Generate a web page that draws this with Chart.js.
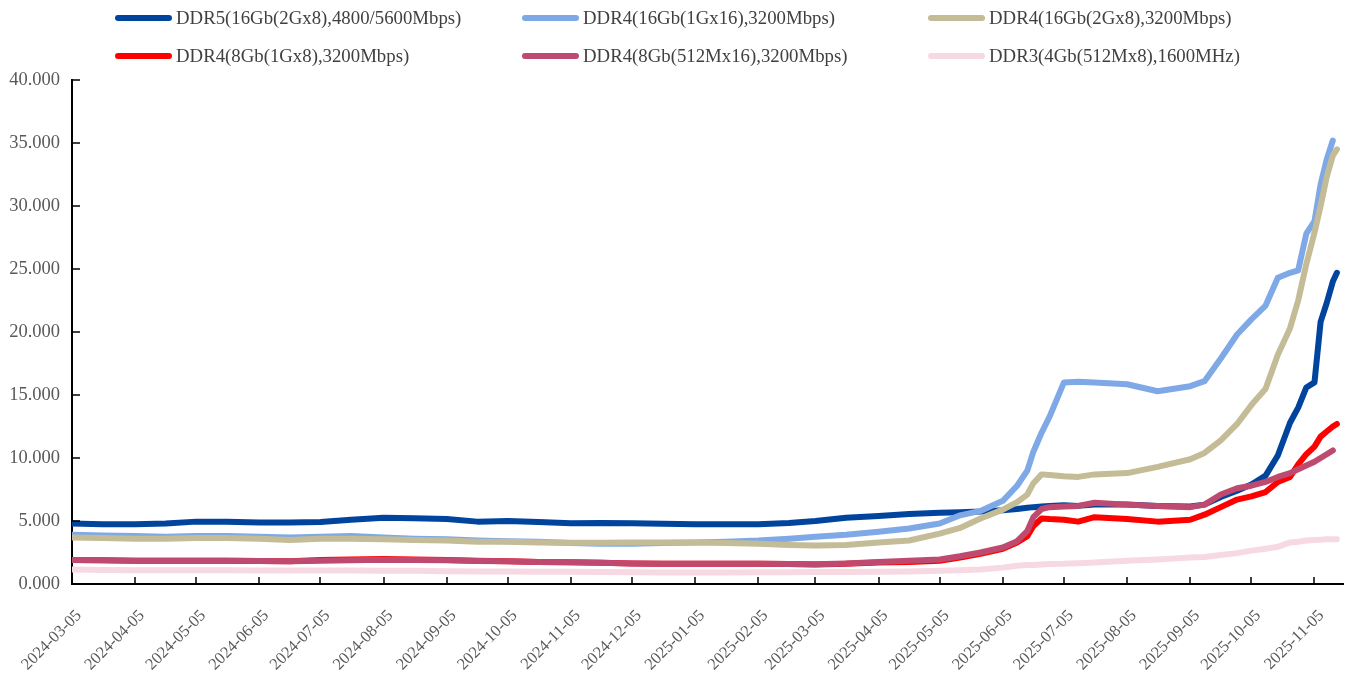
<!DOCTYPE html>
<html>
<head>
<meta charset="utf-8">
<script src="https://cdn.jsdelivr.net/npm/chart.js@4.4.1/dist/chart.umd.min.js"></script>
<style>
  html,body{margin:0;padding:0;background:#fff;}
  #wrap{position:relative;width:1348px;height:675px;overflow:hidden;}
  #c{position:absolute;left:0;top:0;}
  .lg{position:absolute;height:24px;display:flex;align-items:center;white-space:nowrap;
      font-family:"Liberation Serif","Times New Roman",serif;font-size:18.8px;color:#404040;}
  .lg i{display:inline-block;width:57px;height:6px;border-radius:3px;margin-right:4px;}
</style>
</head>
<body>
<div id="wrap">
  <canvas id="c" width="1348" height="675"></canvas>
</div>
<script>
// sample dates (x) and price series
const dates = [
  '2024-03-05','2024-03-20','2024-04-05','2024-04-20','2024-05-05','2024-05-20','2024-06-05','2024-06-20',
  '2024-07-05','2024-07-20','2024-08-05','2024-08-20','2024-09-05','2024-09-20','2024-10-05','2024-10-20',
  '2024-11-05','2024-11-20','2024-12-05','2024-12-20',
  '2025-01-05','2025-01-20','2025-02-05','2025-02-20','2025-03-05','2025-03-20','2025-04-05','2025-04-20','2025-05-05',
  '2025-05-15','2025-05-25','2025-06-05','2025-06-12','2025-06-17','2025-06-20','2025-06-24','2025-06-28',
  '2025-07-05','2025-07-12','2025-07-20',
  '2025-08-05','2025-08-20',
  '2025-09-05','2025-09-12','2025-09-20','2025-09-28',
  '2025-10-05','2025-10-12','2025-10-18','2025-10-24','2025-10-28',
  '2025-11-01','2025-11-05','2025-11-08','2025-11-11','2025-11-14','2025-11-16'
];

const ddr5_16g = [
  4.8,4.75,4.75,4.8,4.95,4.95,4.88,4.88,4.92,5.1,5.25,5.22,5.15,4.95,5.0,4.92,4.82,4.85,4.82,4.78,
  4.75,4.75,4.75,4.85,5.0,5.25,5.4,5.55,5.65,
  5.7,5.75,5.85,5.95,6.05,6.1,6.15,6.2,
  6.25,6.2,6.3,
  6.3,6.2,
  6.15,6.3,6.9,7.4,
  7.9,8.6,10.2,12.8,14.0,
  15.6,16.0,20.8,22.3,24.0,24.7
];
const ddr4_16g_1gx16 = [
  3.9,3.85,3.8,3.75,3.8,3.8,3.75,3.7,3.75,3.8,3.7,3.6,3.55,3.45,3.4,3.35,3.25,3.2,3.2,3.25,
  3.3,3.35,3.45,3.6,3.75,3.9,4.15,4.4,4.8,
  5.45,5.8,6.6,7.8,9.0,10.5,12.0,13.3,
  16.0,16.05,16.0,
  15.85,15.3,
  15.7,16.1,17.9,19.8,
  21.0,22.1,24.3,24.7,24.9,
  27.8,28.8,31.7,33.7,35.2,null
];
const ddr4_16g_2gx8 = [
  3.7,3.65,3.6,3.6,3.65,3.65,3.6,3.5,3.6,3.6,3.55,3.5,3.45,3.35,3.35,3.3,3.28,3.28,3.3,3.3,
  3.3,3.25,3.2,3.1,3.05,3.1,3.3,3.45,4.0,
  4.45,5.2,5.9,6.5,7.1,8.0,8.7,8.65,
  8.55,8.5,8.7,
  8.8,9.3,
  9.9,10.4,11.4,12.7,
  14.2,15.5,18.2,20.3,22.5,
  25.4,27.9,30.0,32.3,34.0,34.5
];
const ddr4_8g_1gx8 = [
  1.9,1.88,1.85,1.85,1.85,1.85,1.82,1.8,1.9,1.95,1.98,1.95,1.9,1.85,1.8,1.75,1.72,1.68,1.62,1.6,
  1.6,1.6,1.6,1.58,1.55,1.6,1.7,1.75,1.85,
  2.1,2.4,2.8,3.3,3.8,4.6,5.2,5.15,
  5.1,4.95,5.3,
  5.15,4.95,
  5.1,5.5,6.1,6.7,
  6.95,7.3,8.1,8.5,9.5,
  10.3,10.9,11.7,12.1,12.5,12.7
];
const ddr4_8g_512mx16 = [
  1.9,1.88,1.85,1.85,1.85,1.85,1.82,1.8,1.85,1.88,1.92,1.9,1.88,1.83,1.8,1.75,1.72,1.68,1.62,1.6,
  1.6,1.6,1.6,1.58,1.57,1.62,1.75,1.85,1.95,
  2.2,2.5,2.9,3.4,4.2,5.3,5.95,6.1,
  6.15,6.2,6.45,
  6.3,6.2,
  6.1,6.3,7.1,7.6,
  7.8,8.1,8.5,8.8,9.1,
  9.4,9.7,10.0,10.3,10.6,null
];
const ddr3_4g = [
  1.15,1.12,1.1,1.1,1.1,1.1,1.08,1.08,1.08,1.08,1.05,1.05,1.02,1.0,1.0,0.98,0.97,0.95,0.93,0.92,
  0.92,0.92,0.93,0.93,0.95,0.95,0.97,1.0,1.05,
  1.1,1.15,1.3,1.45,1.5,1.5,1.55,1.58,
  1.6,1.65,1.7,
  1.85,1.95,
  2.1,2.15,2.3,2.45,
  2.65,2.8,2.95,3.3,3.35,
  3.45,3.5,3.52,3.55,3.55,3.55
];

const seriesNames = [
  'DDR5(16Gb(2Gx8),4800/5600Mbps)',
  'DDR4(16Gb(1Gx16),3200Mbps)',
  'DDR4(16Gb(2Gx8),3200Mbps)',
  'DDR4(8Gb(1Gx8),3200Mbps)',
  'DDR4(8Gb(512Mx16),3200Mbps)',
  'DDR3(4Gb(512Mx8),1600MHz)'
];
const seriesColors = ['#00449E','#7FA9E6','#C4BC96','#FF0000','#BF4A70','#F7D9E3'];
const seriesValues = [ddr5_16g, ddr4_16g_1gx16, ddr4_16g_2gx8, ddr4_8g_1gx8, ddr4_8g_512mx16, ddr3_4g];

const tickDates = [
  '2024-03-05','2024-04-05','2024-05-05','2024-06-05','2024-07-05','2024-08-05','2024-09-05',
  '2024-10-05','2024-11-05','2024-12-05','2025-01-05','2025-02-05','2025-03-05','2025-04-05',
  '2025-05-05','2025-06-05','2025-07-05','2025-08-05','2025-09-05','2025-10-05','2025-11-05'
];
const yTicks = [0,5,10,15,20,25,30,35,40];
const X_END = '2025-11-19';

const START = Date.UTC(2024, 2, 5);
const dayOf = s => { const [y,m,d] = s.split('-').map(Number); return Math.round((Date.UTC(y,m-1,d) - START)/864e5); };

// html legend, 3 columns x 2 rows
const lgLeft = [115, 522, 928], lgTop = [6, 44];
const wrap = document.getElementById('wrap');
seriesNames.forEach((n,i) => {
  const el = document.createElement('div');
  el.className = 'lg';
  el.style.left = lgLeft[i%3] + 'px';
  el.style.top = lgTop[Math.floor(i/3)] + 'px';
  el.innerHTML = '<i style="background:'+seriesColors[i]+'"></i>';
  el.appendChild(document.createTextNode(n));
  wrap.appendChild(el);
});

// inward tick marks and rotated date labels
const axisMarks = {
  id:'axisMarks',
  afterDraw(chart){
    const {ctx, chartArea:a, scales:{x, y}} = chart;
    ctx.save();
    ctx.strokeStyle = '#000'; ctx.lineWidth = 1.5;
    ctx.beginPath();
    tickDates.forEach(d => { const px = Math.round(x.getPixelForValue(dayOf(d))); ctx.moveTo(px, a.bottom); ctx.lineTo(px, a.bottom-7); });
    yTicks.forEach(v => { const py = Math.round(y.getPixelForValue(v)); ctx.moveTo(a.left, py); ctx.lineTo(a.left+8, py); });
    ctx.stroke();
    ctx.font = '16.5px "Liberation Serif", "Times New Roman", serif';
    ctx.fillStyle = '#595959'; ctx.textAlign = 'right'; ctx.textBaseline = 'middle';
    tickDates.forEach(d => {
      const px = x.getPixelForValue(dayOf(d));
      ctx.save();
      ctx.translate(px + 7, a.bottom + 29);
      ctx.rotate(-Math.PI/4);
      ctx.fillText(d, 0, 0);
      ctx.restore();
    });
    ctx.restore();
  }
};

new Chart(document.getElementById('c'), {
  type:'line',
  data:{
    datasets: seriesValues.map((vals,i) => ({
      label: seriesNames[i],
      data: dates.map((d,k) => ({x: dayOf(d), y: vals[k]})),
      borderColor: seriesColors[i],
      backgroundColor: seriesColors[i],
      borderWidth: 6,
      pointRadius: 0,
      tension: 0,
      borderJoinStyle: 'round',
      borderCapStyle: 'round',
      spanGaps: false,
      order: 5 - i
    }))
  },
  options:{
    responsive:false, animation:false,
    layout:{ padding:{ top:80, right:5, left:0, bottom:0 } },
    plugins:{ legend:{ display:false }, tooltip:{ enabled:false } },
    scales:{
      x:{
        type:'linear', min:0, max:dayOf(X_END),
        grid:{ display:false, drawTicks:false },
        border:{ display:true, color:'#000', width:2 },
        ticks:{ display:false },
        afterFit(s){ s.height = 91; }
      },
      y:{
        min:0, max:40,
        grid:{ display:false, drawTicks:false },
        border:{ display:true, color:'#000', width:2 },
        ticks:{
          stepSize:5, padding:12, color:'#595959',
          font:{ family:'"Liberation Serif", "Times New Roman", serif', size:18.5 },
          callback: v => v.toFixed(3)
        },
        afterFit(s){ s.width = 72; }
      }
    }
  },
  plugins:[axisMarks]
});
</script>
</body>
</html>
